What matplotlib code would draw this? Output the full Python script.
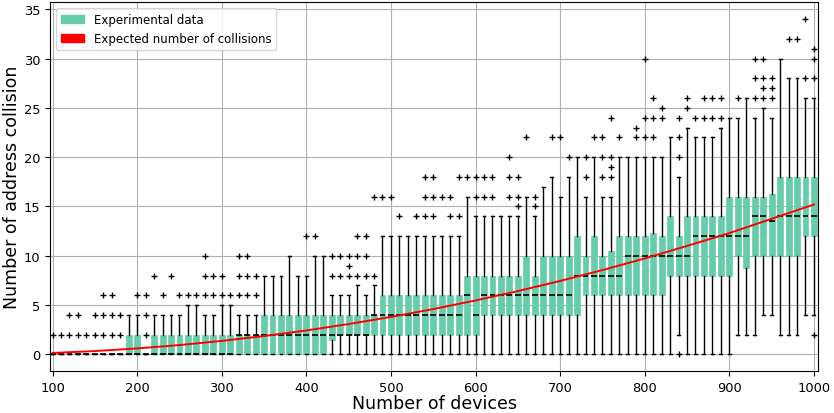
import matplotlib
matplotlib.use('Agg')
import matplotlib.pyplot as plt
import matplotlib.patches as mpatches

# number of devices (box positions)
devices = list(range(100, 1001, 10))

# box statistics
q1 = [0, 0, 0, 0, 0, 0, 0, 0, 0, 0,
      0, 0, 0, 0, 0, 0, 0, 0, 0, 0,
      0, 0, 0, 0, 0, 0, 0, 0, 0, 0,
      0, 0, 0, 1.5, 2, 2, 2, 2, 2, 2,
      2, 2, 2, 2, 2, 2, 2, 2, 2, 2,
      2, 4, 4, 4, 4, 4, 4, 4, 4, 4,
      4, 4, 4, 6, 6, 6, 6, 6, 6, 6,
      6, 6, 6, 8, 8, 8, 8, 8, 8, 8,
      8, 10, 8.75, 10, 10, 10, 10, 10, 10, 12,
      12]
med = [0, 0, 0, 0, 0, 0, 0, 0, 0, 0,
       0, 0, 0, 0, 0, 0, 0, 0, 0, 0,
       0, 0, 2, 2, 2, 2, 2, 2, 2, 2,
       2, 2, 2, 2, 2, 2, 2, 2, 4, 4,
       4, 4, 4, 4, 4, 4, 4, 4, 4, 6,
       4, 6, 6, 6, 6, 6, 6, 6, 6, 6,
       6, 6, 8, 8, 8, 8, 8, 8, 10, 10,
       10, 10, 10, 10, 10, 10, 12, 12, 12, 12,
       12, 12, 12, 14, 14, 13.5, 14, 14, 14, 14,
       14]
q3 = [0, 0, 0, 0, 0, 0, 0, 0, 0, 2,
      2, 0, 2, 2, 2, 2, 2, 2, 2, 2,
      2, 2, 2, 2, 2, 4, 4, 4, 4, 4,
      4, 4, 4, 4, 4, 4, 4, 4, 4, 6,
      6, 6, 6, 6, 6, 6, 6, 6, 6, 8,
      8, 8, 8, 8, 8, 8, 10, 8, 10, 10,
      10, 10, 12, 10, 12, 10, 10.5, 12, 12, 12,
      12, 12.3, 12, 14, 12, 14, 14, 14, 14, 14,
      16, 16, 16, 16, 16, 16.25, 18, 18, 18, 18,
      18]
whis_lo = [0] * 74 + [2] + [0] * 6 + [2, 2, 2, 4, 4, 2, 2, 2, 4, 4]
whis_hi = [0, 0, 0, 0, 0, 0, 0, 0, 0, 4,
           4, 0, 4, 4, 4, 4, 5, 5, 4, 4,
           5, 5, 4, 4, 4, 8, 8, 8, 10, 8,
           8, 10, 10, 6, 6, 6, 7, 6, 7, 12,
           12, 12, 12, 12, 12, 12, 12, 12, 12, 16,
           14, 14, 14, 14, 14, 14, 16, 14, 17, 18,
           16, 18, 20, 16, 20, 16, 16, 20, 20, 20,
           20, 20, 20, 22, 18, 23, 22, 22, 22, 23,
           24, 24, 26, 24, 25, 24, 30, 28, 28, 26,
           26]
outliers = [[2], [2], [2, 4], [2, 4], [2], [2, 4], [2, 4, 6], [2, 4, 6], [2, 4], [],
            [6], [2, 4, 6], [8], [6], [8], [6], [6], [6], [6, 8, 10], [6, 8],
            [6, 8], [6], [6, 8, 10], [6, 8, 10], [6, 8], [], [], [], [], [],
            [12], [12], [], [8, 10], [8, 10], [8, 9, 10], [8, 10, 12], [8, 10, 12], [8, 16], [16],
            [16], [14], [], [14], [14, 16, 18], [14, 16, 18], [16], [14, 16], [14, 18], [18],
            [16, 18], [16, 18], [16, 18], [], [16, 18, 20], [15, 16, 18], [22], [15, 16], [], [22],
            [22], [20], [], [18, 20], [22], [18, 20, 22], [18, 19, 20, 24], [22], [], [22, 23],
            [22, 24, 30], [22, 24, 26], [24, 25], [], [0, 20, 22, 24], [25, 26], [24], [24, 26], [24, 26], [24, 26],
            [], [26], [], [26, 28, 30], [26, 27, 28, 30], [26, 27, 28], [], [32], [32], [28, 34],
            [2, 28, 30, 31]]

# expected number of collisions (red curve)
exp_devices = list(range(100, 1001, 50))
exp_collisions = [0.15, 0.34, 0.61, 0.95, 1.37, 1.86, 2.43, 3.08, 3.8, 4.6,
                  5.47, 6.42, 7.45, 8.55, 9.73, 11.0, 12.3, 13.75, 15.2]

box_color = '#66CDAA'

stats = []
for i in range(len(devices)):
    stats.append({'med': med[i], 'q1': q1[i], 'q3': q3[i],
                  'whislo': whis_lo[i], 'whishi': whis_hi[i],
                  'fliers': outliers[i]})

fig, ax = plt.subplots(figsize=(8.34, 4.14), dpi=100)
fig.subplots_adjust(left=0.06, right=0.981, top=0.992, bottom=0.101)

ax.bxp(stats, positions=devices, widths=7, patch_artist=True, manage_ticks=False,
       boxprops=dict(facecolor=box_color, edgecolor=box_color, linewidth=0.5),
       medianprops=dict(color='black', linewidth=1.2),
       whiskerprops=dict(color='black', linewidth=1),
       capprops=dict(color='black', linewidth=1),
       flierprops=dict(marker='+', markeredgecolor='black', markersize=4.5,
                       markeredgewidth=1.0, linewidth=0))

ax.plot(exp_devices, exp_collisions, color='red', linewidth=1.4, zorder=5)

ax.set_xlim(97, 1005)
ax.set_ylim(-1.7, 35.7)
ax.set_xticks(range(100, 1001, 100))
ax.set_yticks(range(0, 36, 5))
ax.tick_params(labelsize=9.4)
ax.grid(True)
ax.set_axisbelow(True)

ax.set_xlabel('Number of devices', fontsize=12.5, labelpad=0)
ax.set_ylabel('Number of address collision', fontsize=12.5, labelpad=2)

handles = [mpatches.Patch(color=box_color, label='Experimental data'),
           mpatches.Patch(color='red', label='Expected number of collisions')]
ax.legend(handles=handles, loc='upper left', fontsize=8.5)

plt.savefig('out.png', dpi=100)
